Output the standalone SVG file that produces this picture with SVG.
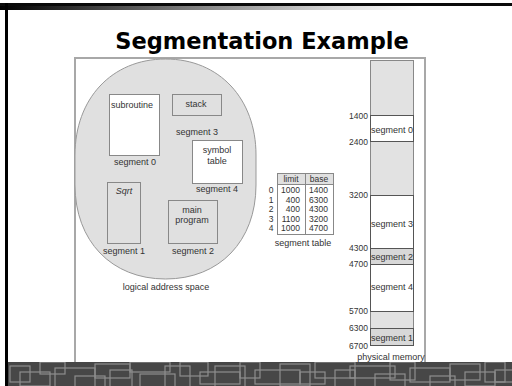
<svg xmlns="http://www.w3.org/2000/svg" width="512" height="386" viewBox="0 0 512 386">
  <defs>
    <linearGradient id="topShade" x1="0" y1="0" x2="1" y2="0">
      <stop offset="0" stop-color="#000"/>
      <stop offset="0.35" stop-color="#777"/>
      <stop offset="0.65" stop-color="#d8d8d8"/>
      <stop offset="0.82" stop-color="#fff"/>
    </linearGradient>
    <clipPath id="bandClip">
      <rect x="8" y="362" width="504" height="24"/>
    </clipPath>
  </defs>
  <style>
    .lbl { font-family: "Liberation Sans", Arial, sans-serif; font-size: 9px; fill: #333; }
    .sm { font-family: "Liberation Sans", Arial, sans-serif; font-size: 8.5px; fill: #333; }
    .mid { text-anchor: middle; }
    .end { text-anchor: end; }
    .box { stroke: #888; stroke-width: 1; }
    .white { fill: #fff; }
    .grey { fill: #e0e0e0; }
    .mem { stroke: #555; stroke-width: 1; }
    .maze rect { fill: none; stroke: #8e8e8e; stroke-width: 1.2; }
  </style>

  <!-- slide background and frame -->
  <rect x="0" y="0" width="512" height="386" fill="#fff"/>
  <rect x="0" y="6" width="512" height="4" fill="url(#topShade)"/>
  <rect x="0" y="3" width="512" height="3" fill="#0a0a0a"/>
  <rect x="5" y="3" width="3" height="383" fill="#000"/>

  <!-- title -->
  <text x="262" y="49" text-anchor="middle" font-family="'DejaVu Sans', Verdana, sans-serif" font-weight="bold" font-size="22.5" fill="#000">Segmentation Example</text>

  <!-- figure panel -->
  <path d="M75,362 V58 H425 V362" fill="none" stroke="#a8a8a8" stroke-width="2"/>

  <!-- logical address space: a squared-off ellipse -->
  <g id="logical-space">
    <path d="M165.5,59 C219.5,59 256,99 256,155 L256,185 C256,241 219.5,279 165.5,279 C111.5,279 75,241 75,185 L75,155 C75,99 111.5,59 165.5,59 Z" fill="#e0e0e0" stroke="#999" stroke-width="1"/>
    <text class="lbl mid" x="166" y="290">logical address space</text>
  </g>

  <g id="segment-0">
    <rect class="box white" x="109.5" y="94.5" width="50" height="61"/>
    <text class="lbl mid" x="132" y="108">subroutine</text>
    <text class="lbl mid" x="135" y="165">segment 0</text>
  </g>

  <g id="segment-3">
    <rect class="box grey" x="172.5" y="94.5" width="49" height="21"/>
    <text class="lbl mid" x="196" y="107">stack</text>
    <text class="lbl mid" x="197" y="135">segment 3</text>
  </g>

  <g id="segment-4">
    <rect class="box white" x="192.5" y="140.5" width="50" height="43"/>
    <text class="lbl mid" x="217" y="153">symbol</text>
    <text class="lbl mid" x="217" y="164">table</text>
    <text class="lbl mid" x="217" y="192">segment 4</text>
  </g>

  <g id="segment-1">
    <rect class="box grey" x="107.5" y="182.5" width="33" height="61"/>
    <text class="lbl mid" x="124" y="194" font-style="italic">Sqrt</text>
    <text class="lbl mid" x="124" y="254">segment 1</text>
  </g>

  <g id="segment-2">
    <rect class="box grey" x="168.5" y="200.5" width="49" height="43"/>
    <text class="lbl mid" x="192" y="213">main</text>
    <text class="lbl mid" x="192" y="223">program</text>
    <text class="lbl mid" x="193" y="254">segment 2</text>
  </g>

  <!-- segment table -->
  <g id="segment-table">
    <rect x="277.5" y="173.5" width="56" height="11" fill="#e0e0e0"/>
    <rect x="277.5" y="173.5" width="56" height="61" fill="none" stroke="#888"/>
    <line x1="277.5" y1="184.5" x2="333.5" y2="184.5" stroke="#888"/>
    <line x1="305.5" y1="173.5" x2="305.5" y2="234.5" stroke="#888"/>
    <text class="sm mid" x="291" y="182">limit</text>
    <text class="sm mid" x="319" y="182">base</text>
    <g class="sm">
      <text x="271" y="193" text-anchor="middle">0</text>
      <text x="271" y="202.5" text-anchor="middle">1</text>
      <text x="271" y="212" text-anchor="middle">2</text>
      <text x="271" y="221.5" text-anchor="middle">3</text>
      <text x="271" y="231" text-anchor="middle">4</text>
      <text x="300" y="193" text-anchor="end">1000</text>
      <text x="300" y="202.5" text-anchor="end">400</text>
      <text x="300" y="212" text-anchor="end">400</text>
      <text x="300" y="221.5" text-anchor="end">1100</text>
      <text x="300" y="231" text-anchor="end">1000</text>
      <text x="328" y="193" text-anchor="end">1400</text>
      <text x="328" y="202.5" text-anchor="end">6300</text>
      <text x="328" y="212" text-anchor="end">4300</text>
      <text x="328" y="221.5" text-anchor="end">3200</text>
      <text x="328" y="231" text-anchor="end">4700</text>
    </g>
    <text class="lbl mid" x="303" y="246">segment table</text>
  </g>

  <!-- physical memory -->
  <g id="physical-memory">
    <rect x="370.5" y="60.5" width="43" height="285" fill="#e2e2e2" stroke="#888"/>
    <rect class="mem" x="370.5" y="115.5" width="43" height="26" fill="#fff"/>
    <rect class="mem" x="370.5" y="195.5" width="43" height="53" fill="#fff" stroke="#222"/>
    <rect class="mem" x="370.5" y="248.5" width="43" height="16" fill="#d8d8d8"/>
    <rect class="mem" x="370.5" y="264.5" width="43" height="47" fill="#fff"/>
    <rect class="mem" x="370.5" y="328.5" width="43" height="17" fill="#d8d8d8"/>
    <g class="lbl">
      <text x="371" y="132.5">segment 0</text>
      <text x="371" y="226.5">segment 3</text>
      <text x="371" y="259.5">segment 2</text>
      <text x="371" y="290">segment 4</text>
      <text x="371" y="340.5">segment 1</text>
    </g>
    <g class="sm end">
      <text x="368" y="118.5">1400</text>
      <text x="368" y="144.5">2400</text>
      <text x="368" y="198">3200</text>
      <text x="368" y="251">4300</text>
      <text x="368" y="267">4700</text>
      <text x="368" y="314">5700</text>
      <text x="368" y="331">6300</text>
      <text x="368" y="348.5">6700</text>
    </g>
    <text class="lbl mid" x="391" y="360">physical memory</text>
  </g>

  <!-- footer band -->
  <rect x="8" y="362" width="504" height="24" fill="#474747"/>
  <g class="maze" clip-path="url(#bandClip)">
    <rect x="10" y="366" width="20" height="16"/>
    <rect x="20" y="372" width="30" height="14"/>
    <rect x="40" y="362" width="25" height="12"/>
    <rect x="55" y="368" width="40" height="20"/>
    <rect x="75" y="376" width="30" height="12"/>
    <rect x="95" y="364" width="35" height="14"/>
    <rect x="110" y="370" width="22" height="20"/>
    <rect x="130" y="362" width="40" height="10"/>
    <rect x="140" y="374" width="35" height="14"/>
    <rect x="165" y="366" width="25" height="22"/>
    <rect x="180" y="362" width="28" height="14"/>
    <rect x="200" y="372" width="40" height="12"/>
    <rect x="215" y="366" width="30" height="24"/>
    <rect x="240" y="362" width="20" height="16"/>
    <rect x="255" y="370" width="45" height="14"/>
    <rect x="280" y="364" width="30" height="22"/>
    <rect x="300" y="372" width="25" height="12"/>
    <rect x="315" y="362" width="40" height="16"/>
    <rect x="335" y="370" width="20" height="20"/>
    <rect x="350" y="366" width="45" height="12"/>
    <rect x="375" y="374" width="30" height="14"/>
    <rect x="390" y="362" width="25" height="18"/>
    <rect x="410" y="368" width="40" height="14"/>
    <rect x="430" y="376" width="25" height="12"/>
    <rect x="450" y="364" width="30" height="16"/>
    <rect x="465" y="372" width="30" height="14"/>
    <rect x="485" y="362" width="20" height="20"/>
    <rect x="495" y="370" width="25" height="12"/>
  </g>
</svg>
